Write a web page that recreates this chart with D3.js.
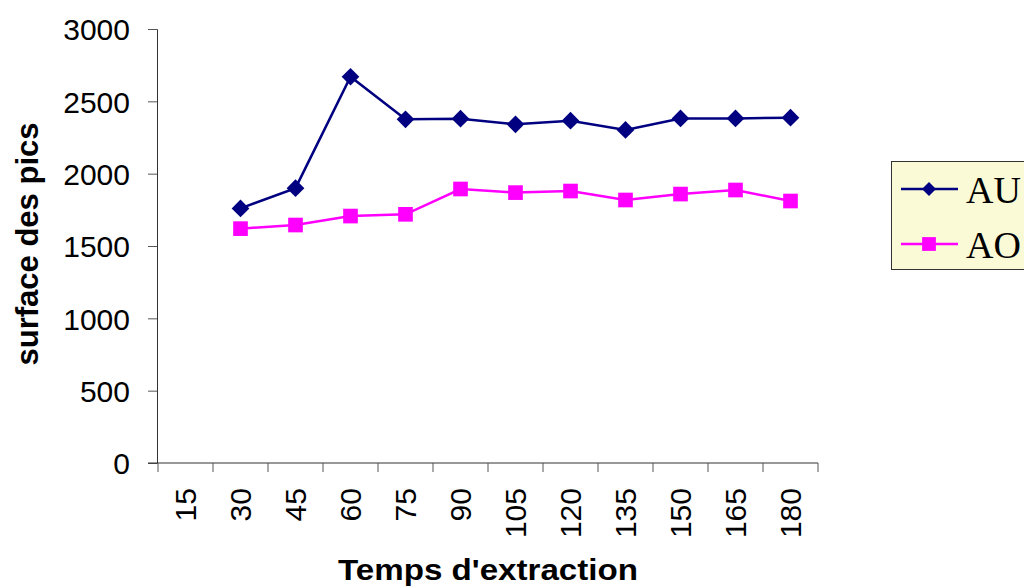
<!DOCTYPE html>
<html>
<head>
<meta charset="utf-8">
<script src="https://cdn.jsdelivr.net/npm/d3@7"></script>
<style>
  body { margin: 0; background: #fff; }
  svg { display: block; }
</style>
</head>
<body>
<div id="chart"></div>
<script>
// data
const categories = ["15", "30", "45", "60", "75", "90", "105", "120", "135", "150", "165", "180"];
const auValues = [null, 1760, 1900, 2670, 2376, 2380, 2341, 2366, 2302, 2382, 2382, 2387];
const aoValues = [null, 1620, 1645, 1707, 1719, 1894, 1869, 1880, 1818, 1859, 1887, 1811];
const yTicks = [0, 500, 1000, 1500, 2000, 2500, 3000];

const width = 1024, height = 588;
const sans = "Liberation Sans, Arial, Helvetica, sans-serif";

const svg = d3.select("#chart").append("svg")
    .attr("width", width)
    .attr("height", height);

const x = d3.scaleBand()
    .domain(categories)
    .range([158, 818]);

const y = d3.scaleLinear()
    .domain([0, 3000])
    .range([463, 29]);

// y axis
const yAxis = svg.append("g")
    .attr("transform", "translate(157,0)")
    .call(d3.axisLeft(y).tickValues(yTicks).tickFormat(d3.format("d")).tickSize(9).tickPadding(18));
yAxis.select(".domain").attr("stroke", "#333");
yAxis.selectAll(".tick line").attr("stroke", "#555");
yAxis.selectAll("text")
    .attr("font-family", sans)
    .attr("font-size", 30)
    .attr("dy", "0.36em")
    .attr("fill", "#000");

// x axis: ticks at category boundaries
const xAxis = svg.append("g")
    .attr("transform", "translate(0,463)");
xAxis.append("line")
    .attr("x1", 148).attr("x2", 818)
    .attr("stroke", "#333");
const bounds = categories.map(c => x(c)).concat([x.range()[1]]);
xAxis.selectAll(".xtick")
    .data(bounds)
    .join("line")
    .attr("class", "xtick")
    .attr("x1", d => d).attr("x2", d => d)
    .attr("y1", 0).attr("y2", 9)
    .attr("stroke", "#555");
xAxis.selectAll(".xlab")
    .data(categories)
    .join("text")
    .attr("class", "xlab")
    .attr("transform", d => "translate(" + (x(d) + x.bandwidth() / 2 + 10.5) + ",25) rotate(-90)")
    .attr("text-anchor", "end")
    .attr("font-family", sans)
    .attr("font-size", 30)
    .text(d => d);

// axis titles
svg.append("text")
    .attr("x", 338).attr("y", 580)
    .attr("textLength", 300)
    .attr("lengthAdjust", "spacingAndGlyphs")
    .attr("font-family", sans)
    .attr("font-weight", "bold")
    .attr("font-size", 29)
    .text("Temps d'extraction");

svg.append("text")
    .attr("transform", "translate(38,244) rotate(-90)")
    .attr("text-anchor", "middle")
    .attr("font-family", sans)
    .attr("font-weight", "bold")
    .attr("font-size", 31)
    .text("surface des pics");

// series
const series = [
    { name: "AU", values: auValues, color: "#000080", symbol: d3.symbolDiamond2, size: 200 },
    { name: "AO", values: aoValues, color: "#ff00ff", symbol: d3.symbolSquare, size: 215 }
];

const line = d3.line()
    .defined(d => d.v != null)
    .x(d => x(d.c) + x.bandwidth() / 2)
    .y(d => y(d.v));

series.forEach(s => {
    const pts = categories.map((c, i) => ({ c: c, v: s.values[i] }));
    svg.append("path")
        .datum(pts)
        .attr("fill", "none")
        .attr("stroke", s.color)
        .attr("stroke-width", 2.5)
        .attr("d", line);
    svg.selectAll(".pt-" + s.name)
        .data(pts.filter(d => d.v != null))
        .join("path")
        .attr("class", "pt-" + s.name)
        .attr("transform", d => "translate(" + (x(d.c) + x.bandwidth() / 2) + "," + y(d.v) + ")")
        .attr("d", d3.symbol().type(s.symbol).size(s.size))
        .attr("fill", s.color);
});

// legend
const legend = svg.append("g");
legend.append("rect")
    .attr("x", 891.5).attr("y", 161.5)
    .attr("width", 140).attr("height", 108)
    .attr("fill", "#fafad6")
    .attr("stroke", "#333");
series.forEach((s, i) => {
    const ly = 189 + i * 55;
    legend.append("line")
        .attr("x1", 901).attr("x2", 958)
        .attr("y1", ly).attr("y2", ly)
        .attr("stroke", s.color)
        .attr("stroke-width", 2.5);
    legend.append("path")
        .attr("transform", "translate(929," + ly + ")")
        .attr("d", d3.symbol().type(s.symbol).size(s.name === "AU" ? 125 : 190))
        .attr("fill", s.color);
    legend.append("text")
        .attr("x", 966).attr("y", ly + 14)
        .attr("font-family", "Liberation Serif, Times New Roman, serif")
        .attr("font-size", 38)
        .text(s.name);
});
</script>
</body>
</html>
